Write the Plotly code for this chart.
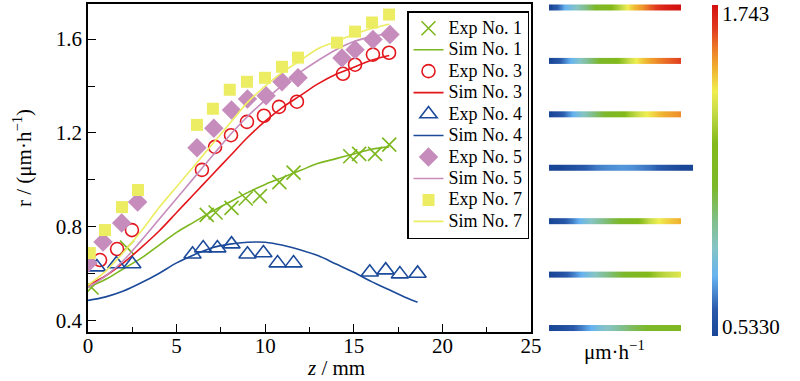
import numpy as np
import plotly.graph_objects as go

# ---------------- data ----------------
exp1_z = [0.2, 2.2, 6.7, 7.2, 8.1, 8.9, 9.7, 10.8, 11.6, 14.8, 15.3, 16.2, 17.0]
exp1_r = [0.54, 0.71, 0.85, 0.86, 0.88, 0.92, 0.93, 0.99, 1.03, 1.10, 1.11, 1.11, 1.15]
sim1_z = [0, 1, 2, 3, 4, 5, 6, 7, 8, 9, 10, 11, 12, 13, 14, 15, 16, 17]
sim1_r = [0.54, 0.575, 0.62, 0.665, 0.72, 0.775, 0.82, 0.865, 0.905, 0.945, 0.98,
          1.01, 1.04, 1.07, 1.09, 1.11, 1.13, 1.14]

exp3_z = [0.68, 1.64, 2.48, 6.43, 7.17, 8.07, 8.97, 9.93, 10.78, 11.79, 14.39, 15.07, 16.08, 16.99]
exp3_r = [0.657, 0.704, 0.785, 1.042, 1.14, 1.19, 1.247, 1.273, 1.311, 1.333, 1.452, 1.491, 1.534, 1.542]
sim3_z = [0, 1, 2, 3, 4, 5, 6, 7, 8, 9, 10, 11, 12, 13, 14, 15, 16, 17]
sim3_r = [0.55, 0.59, 0.645, 0.71, 0.78, 0.86, 0.94, 1.02, 1.10, 1.18, 1.25, 1.31,
          1.36, 1.41, 1.45, 1.48, 1.51, 1.53]

exp4_z = [0.5, 1.6, 2.5, 5.9, 6.5, 7.3, 8.1, 9.0, 9.9, 10.7, 11.6, 15.9, 16.8, 17.6, 18.6]
exp4_r = [0.627, 0.64, 0.64, 0.682, 0.708, 0.708, 0.725, 0.682, 0.687, 0.644, 0.644,
          0.605, 0.614, 0.597, 0.60]
sim4_z = [0, 1, 2, 3, 4, 5, 6, 7, 8, 9, 10, 11, 12, 13, 14, 15, 16, 17, 18, 18.6]
sim4_r = [0.485, 0.50, 0.525, 0.56, 0.60, 0.645, 0.68, 0.71, 0.725, 0.733, 0.733,
          0.72, 0.70, 0.675, 0.64, 0.605, 0.565, 0.53, 0.495, 0.477]

exp5_z = [0.0, 0.85, 1.9, 2.8, 6.15, 7.1, 8.1, 9.0, 10.05, 10.95, 11.85, 14.33, 15.07, 16.08, 17.04]
exp5_r = [0.645, 0.734, 0.815, 0.905, 1.136, 1.22, 1.298, 1.345, 1.358, 1.418, 1.435,
          1.52, 1.555, 1.598, 1.62]
sim5_z = [0, 1, 2, 3, 4, 5, 6, 7, 8, 9, 10, 11, 12, 13, 14, 15, 16, 17]
sim5_r = [0.54, 0.59, 0.655, 0.74, 0.83, 0.92, 1.01, 1.10, 1.19, 1.27, 1.34, 1.405,
          1.46, 1.51, 1.555, 1.59, 1.61, 1.625]

exp7_z = [0.1, 0.96, 1.92, 2.82, 6.15, 7.05, 8.0, 8.97, 9.99, 10.95, 11.85, 14.05, 15.07, 16.03, 16.99]
exp7_r = [0.687, 0.785, 0.883, 0.956, 1.234, 1.303, 1.384, 1.418, 1.435, 1.482, 1.521,
          1.585, 1.632, 1.671, 1.705]
sim7_z = [0, 1, 2, 3, 4, 5, 6, 7, 8, 9, 10, 11, 12, 13, 14, 15, 16, 17]
sim7_r = [0.55, 0.61, 0.69, 0.78, 0.88, 0.97, 1.06, 1.15, 1.24, 1.33, 1.40, 1.46,
          1.51, 1.56, 1.59, 1.62, 1.645, 1.665]

# colour bars on the right (r along z), top to bottom
bar_z = [0, 1, 2, 3, 4, 5, 6, 7, 8, 9, 10, 11, 12, 13, 14, 15, 16, 17]
bar_z4 = [0, 1, 2, 3, 4, 5, 6, 7, 8, 9, 10, 11, 12, 13, 14, 15, 16, 17, 18, 18.6]
bar1 = [0.533, 0.63, 0.75, 0.82, 0.90, 0.99, 1.09, 1.16, 1.235, 1.32, 1.42, 1.50,
        1.55, 1.62, 1.67, 1.71, 1.73, 1.743]
bar2 = [0.533, 0.60, 0.68, 0.77, 0.86, 0.95, 1.04, 1.11, 1.18, 1.25, 1.33, 1.41,
        1.48, 1.53, 1.57, 1.60, 1.63, 1.65]
bar3 = [0.533, 0.58, 0.65, 0.74, 0.83, 0.91, 0.99, 1.06, 1.13, 1.19, 1.26, 1.33,
        1.40, 1.45, 1.49, 1.52, 1.54, 1.56]
bar4 = [0.50, 0.52, 0.55, 0.58, 0.61, 0.64, 0.67, 0.69, 0.70, 0.71, 0.71, 0.70,
        0.68, 0.66, 0.63, 0.60, 0.57, 0.54, 0.51, 0.49]
bar5 = [0.533, 0.57, 0.62, 0.68, 0.76, 0.84, 0.90, 0.96, 1.02, 1.08, 1.14, 1.20,
        1.27, 1.36, 1.42, 1.46, 1.49, 1.51]
bar6 = [0.533, 0.56, 0.61, 0.67, 0.74, 0.81, 0.87, 0.93, 0.99, 1.05, 1.10, 1.15,
        1.20, 1.25, 1.30, 1.34, 1.37, 1.40]
bar7 = [0.533, 0.55, 0.58, 0.62, 0.67, 0.73, 0.79, 0.84, 0.88, 0.93, 0.98, 1.02,
        1.06, 1.09, 1.11, 1.13, 1.14, 1.15]
bars = [(bar_z, bar1), (bar_z, bar2), (bar_z, bar3), (bar_z4, bar4),
        (bar_z, bar5), (bar_z, bar6), (bar_z, bar7)]
cmin, cmax = 0.533, 1.743
cmin_label, cmax_label = "0.5330", "1.743"

# ---------------- style ----------------
W, H = 800, 381
FONT = "Liberation Serif, Tinos, Times New Roman, DejaVu Serif, serif"
GREEN, RED, BLUE, PURPLE, YELLOW = "#7cb71e", "#e3161c", "#1c4a9a", "#c68cbc", "#eced62"

def px(x):
    return x / W

def py(y):
    return 1 - y / H

fig = go.Figure()

def legend_name(s):
    return f"<span style='font-size:18px'>{s}</span>"

def add_pair(n, ez, er, sz, sr, color, symbol, size, filled):
    marker = dict(symbol=symbol, size=size, color=color)
    if not filled:
        marker["line"] = dict(color=color, width=1.6)
    fig.add_trace(go.Scatter(x=ez, y=er, mode="markers", name=legend_name(f"Exp No. {n}"),
                             marker=marker))
    fig.add_trace(go.Scatter(x=sz, y=sr, mode="lines", name=legend_name(f"Sim No. {n}"),
                             line=dict(color=color, width=1.6, shape="spline")))

add_pair(1, exp1_z, exp1_r, sim1_z, sim1_r, GREEN, "x-thin-open", 14, False)
add_pair(3, exp3_z, exp3_r, sim3_z, sim3_r, RED, "circle-open", 13, False)
add_pair(4, exp4_z, exp4_r, sim4_z, sim4_r, BLUE, "triangle-up-open", 15, False)
add_pair(5, exp5_z, exp5_r, sim5_z, sim5_r, PURPLE, "diamond", 15, True)
add_pair(7, exp7_z, exp7_r, sim7_z, sim7_r, YELLOW, "square", 12, True)

# heat bars
h = 0.056
for i, (zz, vals) in enumerate(bars):
    zz = np.asarray(zz, dtype=float)
    mids = (zz[:-1] + zz[1:]) / 2
    edges = np.concatenate([[zz[0]], mids, [zz[-1]]])
    fig.add_trace(go.Heatmap(x=edges, y=[i - h, i, i + h], z=[vals, vals],
                             coloraxis="coloraxis", zsmooth="best",
                             xaxis="x2", yaxis="y2", showlegend=False,
                             hoverinfo="skip"))

colorscale = [
    [0.0, "#1a4696"], [0.08, "#2a5aac"], [0.18, "#66b3f0"], [0.27, "#86c4c4"],
    [0.35, "#80be88"], [0.45, "#7cb82a"], [0.58, "#82b91a"], [0.68, "#c8dc48"],
    [0.74, "#f0ee50"], [0.81, "#f0b030"], [0.87, "#ec7a28"], [0.93, "#e03a20"],
    [1.0, "#d41010"],
]

axis_font = dict(family=FONT, size=21, color="black")
fig.update_layout(
    width=W, height=H, margin=dict(l=0, r=0, t=0, b=0, autoexpand=False),
    paper_bgcolor="white", plot_bgcolor="white",
    font=dict(family=FONT, color="black"),
    xaxis=dict(domain=[px(88), px(531)], range=[0, 25], dtick=5, tick0=0,
               ticks="inside", ticklen=8, tickwidth=1.3, tickcolor="black",
               minor=dict(dtick=2.5, ticks="inside", ticklen=5, tickwidth=1.3, tickcolor="black"),
               showline=True, linecolor="black", linewidth=1.5, mirror=True,
               showgrid=False, zeroline=False, tickfont=axis_font, automargin=False,
               ticklabelstandoff=-6),
    yaxis=dict(domain=[py(332), py(4)], range=[0.35, 1.75], dtick=0.4, tick0=0.4,
               tickformat=".1f",
               ticks="inside", ticklen=8, tickwidth=1.3, tickcolor="black",
               minor=dict(dtick=0.2, tick0=0.4, ticks="inside", ticklen=7, tickwidth=1.3,
                          tickcolor="black"),
               showline=True, linecolor="black", linewidth=1.5, mirror=True,
               showgrid=False, zeroline=False, tickfont=axis_font, automargin=False),
    xaxis2=dict(domain=[px(549), px(693)], range=[0, 18.6], visible=False,
                anchor="y2", fixedrange=True),
    yaxis2=dict(domain=[py(335.5), 1.0], range=[6.14, -0.14], visible=False,
                anchor="x2", fixedrange=True),
    coloraxis=dict(colorscale=colorscale, cmin=cmin, cmax=cmax,
                   colorbar=dict(x=px(712), xanchor="left", xpad=0, ypad=0,
                                 thickness=6, thicknessmode="pixels",
                                 len=331, lenmode="pixels",
                                 y=py(170.5), yanchor="middle",
                                 outlinewidth=0, showticklabels=False, ticks="")),
    legend=dict(x=px(407), y=py(11), xanchor="left", yanchor="top",
                bgcolor="white", bordercolor="black", borderwidth=1.5,
                font=dict(family=FONT, size=14.2, color="black"),
                tracegroupgap=0, itemwidth=30),
    showlegend=True,
)

ann = [
    dict(text="r / (μm·h<sup>−1</sup>)", x=px(22), y=py(158), textangle=-90,
         font=axis_font),
    dict(text="<i>z</i> / mm", x=px(336), y=py(368), font=axis_font),
    dict(text="μm·h<sup>−1</sup>", x=px(614), y=py(350), font=axis_font),
    dict(text=cmax_label, x=px(720), y=py(14), xanchor="left", font=axis_font),
    dict(text=cmin_label, x=px(720), y=py(327), xanchor="left", font=axis_font),
]
for a in ann:
    a.setdefault("xanchor", "center")
    fig.add_annotation(xref="paper", yref="paper", showarrow=False, yanchor="middle", **a)

fig.write_html("out.html", config={"displayModeBar": False},
               post_script="document.body.style.margin='0px';")
